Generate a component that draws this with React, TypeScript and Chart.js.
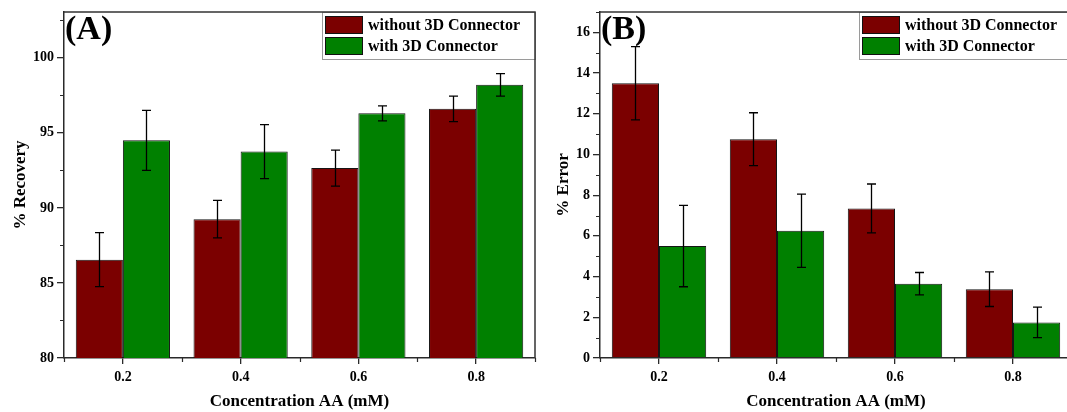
import React, { useEffect, useRef } from 'react';
import { Chart, registerables } from 'chart.js';

Chart.register(...registerables);

// ---- data ----
const categories = ['0.2', '0.4', '0.6', '0.8'];
const seriesNames = ['without 3D Connector', 'with 3D Connector'];

const recoveryWithout = [86.55, 89.25, 92.65, 96.6];
const recoveryWithoutErr = [1.8, 1.25, 1.2, 0.85];
const recoveryWith = [94.5, 93.75, 96.3, 98.2];
const recoveryWithErr = [2.0, 1.8, 0.5, 0.75];

const errorWithout = [13.5, 10.75, 7.35, 3.38];
const errorWithoutErr = [1.8, 1.3, 1.2, 0.85];
const errorWith = [5.5, 6.25, 3.65, 1.75];
const errorWithErr = [2.0, 1.8, 0.55, 0.75];

const recoveryTicks = [80, 85, 90, 95, 100];
const errorTicks = [0, 2, 4, 6, 8, 10, 12, 14, 16];

const panelLabels = ['(A)', '(B)'];
const xTitle = 'Concentration AA (mM)';
const yTitles = ['% Recovery', '% Error'];

// ---- styles ----
const FAMILY = '"Liberation Serif", "Times New Roman", serif';
const MAROON = '#7B0000';
const GREEN = '#008000';
const AXIS = '#2a2a2a';

function makePlugins(label: string) {
  const errorBars = {
    id: 'errorBars',
    afterDatasetsDraw(chart: any) {
      const ctx = chart.ctx;
      const y = chart.scales.y;
      ctx.save();
      ctx.strokeStyle = '#000';
      ctx.lineWidth = 1.3;
      chart.data.datasets.forEach((ds: any, i: number) => {
        const meta = chart.getDatasetMeta(i);
        meta.data.forEach((el: any, j: number) => {
          const v = ds.data[j];
          const e = ds.errors[j];
          const x = Math.round(el.x) + 0.5;
          const yt = y.getPixelForValue(v + e);
          const yb = y.getPixelForValue(v - e);
          ctx.beginPath();
          ctx.moveTo(x, yt);
          ctx.lineTo(x, yb);
          ctx.moveTo(x - 4.5, yt);
          ctx.lineTo(x + 4.5, yt);
          ctx.moveTo(x - 4.5, yb);
          ctx.lineTo(x + 4.5, yb);
          ctx.stroke();
        });
      });
      ctx.restore();
    },
  };

  const frame = {
    id: 'frame',
    afterDraw(chart: any) {
      const ctx = chart.ctx;
      const ca = chart.chartArea;
      const ys = chart.scales.y;
      const xs = chart.scales.x;
      ctx.save();
      // minor y ticks
      ctx.strokeStyle = AXIS;
      ctx.lineWidth = 1.2;
      const tv = ys.ticks.map((t: any) => t.value);
      const step = tv[1] - tv[0];
      ctx.beginPath();
      for (let v = tv[0] + step / 2; v <= ys.max + 1e-9; v += step) {
        const py = Math.round(ys.getPixelForValue(v)) + 0.5;
        ctx.moveTo(ca.left - 4, py);
        ctx.lineTo(ca.left, py);
      }
      // minor x ticks at category boundaries
      for (let i = 0; i <= categories.length; i++) {
        const px = Math.round(xs.getPixelForValue(i - 0.5)) + 0.5;
        ctx.moveTo(px, ca.bottom);
        ctx.lineTo(px, ca.bottom + 4);
      }
      ctx.stroke();

      // legend box
      const lw = 213;
      const lh = 47;
      const lx = Math.round(ca.right - lw);
      const ly = Math.round(ca.top);
      ctx.fillStyle = '#fff';
      ctx.fillRect(lx, ly, lw, lh);
      ctx.strokeStyle = '#9a9a9a';
      ctx.lineWidth = 1;
      ctx.strokeRect(lx + 0.5, ly + 0.5, lw, lh);
      ctx.font = `bold 16px ${FAMILY}`;
      ctx.textBaseline = 'middle';
      ctx.textAlign = 'left';
      chart.data.datasets.forEach((ds: any, i: number) => {
        const sy = ly + 4 + i * 21;
        ctx.fillStyle = ds.backgroundColor;
        ctx.fillRect(lx + 3, sy, 38, 18);
        ctx.strokeStyle = '#111';
        ctx.strokeRect(lx + 3.5, sy + 0.5, 37, 17);
        ctx.fillStyle = '#000';
        ctx.fillText(ds.label, lx + 46, sy + 10);
      });

      // frame (top and right)
      ctx.strokeStyle = '#333';
      ctx.lineWidth = 1.5;
      ctx.beginPath();
      ctx.moveTo(ca.left, ca.top);
      ctx.lineTo(ca.right, ca.top);
      ctx.lineTo(ca.right, ca.bottom);
      ctx.stroke();

      // panel label
      ctx.fillStyle = '#000';
      ctx.font = `bold 34px ${FAMILY}`;
      ctx.textBaseline = 'alphabetic';
      ctx.fillText(label, ca.left + 1, 39);
      ctx.restore();
    },
  };
  return [errorBars, frame];
}

interface PanelProps {
  left: number;
  width: number;
  padLeft: number;
  yWidth: number;
  seriesA: number[];
  seriesAErr: number[];
  seriesB: number[];
  seriesBErr: number[];
  yMin: number;
  yMax: number;
  ticks: number[];
  yTitle: string;
  label: string;
}

function Panel(p: PanelProps) {
  const ref = useRef<HTMLCanvasElement>(null);
  useEffect(() => {
    const tickFont = { family: FAMILY, size: 14, weight: 'bold' as const };
    const titleFont = { family: FAMILY, size: 17, weight: 'bold' as const };
    const chart = new Chart(ref.current as HTMLCanvasElement, {
      type: 'bar',
      data: {
        labels: categories,
        datasets: [
          {
            label: seriesNames[0],
            data: p.seriesA,
            errors: p.seriesAErr,
            backgroundColor: MAROON,
            borderColor: '#151515',
            borderWidth: 1,
            categoryPercentage: 0.8,
            barPercentage: 1,
          } as any,
          {
            label: seriesNames[1],
            data: p.seriesB,
            errors: p.seriesBErr,
            backgroundColor: GREEN,
            borderColor: '#151515',
            borderWidth: 1,
            categoryPercentage: 0.8,
            barPercentage: 1,
          } as any,
        ],
      },
      options: {
        responsive: false,
        animation: false,
        devicePixelRatio: 1,
        layout: { padding: { left: p.padLeft, right: 13, top: 12, bottom: 0 } },
        plugins: { legend: { display: false }, tooltip: { enabled: false } },
        scales: {
          x: {
            type: 'category',
            offset: true,
            grid: {
              offset: false,
              drawOnChartArea: false,
              drawTicks: true,
              tickLength: 6,
              color: AXIS,
              lineWidth: 1.3,
            },
            border: { display: true, color: AXIS, width: 1.5 },
            ticks: { color: '#000', font: tickFont, padding: 5, maxRotation: 0 },
            title: {
              display: true,
              text: xTitle,
              color: '#000',
              font: titleFont,
              padding: { top: 4, bottom: 0 },
            },
            afterFit: (s: any) => {
              s.height = 54;
            },
          },
          y: {
            type: 'linear',
            min: p.yMin,
            max: p.yMax,
            afterBuildTicks: (s: any) => {
              s.ticks = p.ticks.map((v) => ({ value: v }));
            },
            grid: {
              drawOnChartArea: false,
              drawTicks: true,
              tickLength: 7,
              color: AXIS,
              lineWidth: 1.3,
            },
            border: { display: true, color: AXIS, width: 1.5 },
            ticks: { color: '#000', font: tickFont, padding: 3 },
            title: {
              display: true,
              text: p.yTitle,
              color: '#000',
              font: titleFont,
              padding: { top: 4, bottom: 4 },
            },
            afterFit: (s: any) => {
              s.width = p.yWidth;
            },
          },
        },
      } as any,
      plugins: makePlugins(p.label),
    });
    return () => chart.destroy();
  }, []);
  return (
    <canvas
      ref={ref}
      width={p.width}
      height={412}
      style={{ position: 'absolute', left: p.left, top: 0, width: p.width, height: 412 }}
    />
  );
}

export default function App() {
  return (
    <div
      style={{
        position: 'fixed',
        left: 0,
        top: 0,
        width: 1067,
        height: 412,
        overflow: 'hidden',
        background: '#fff',
      }}
    >
      <Panel
        left={0}
        width={548}
        padLeft={6}
        yWidth={58}
        seriesA={recoveryWithout}
        seriesAErr={recoveryWithoutErr}
        seriesB={recoveryWith}
        seriesBErr={recoveryWithErr}
        yMin={80}
        yMax={103.05}
        ticks={recoveryTicks}
        yTitle={yTitles[0]}
        label={panelLabels[0]}
      />
      <Panel
        left={548}
        width={537}
        padLeft={1}
        yWidth={51}
        seriesA={errorWithout}
        seriesAErr={errorWithoutErr}
        seriesB={errorWith}
        seriesBErr={errorWithErr}
        yMin={0}
        yMax={17}
        ticks={errorTicks}
        yTitle={yTitles[1]}
        label={panelLabels[1]}
      />
    </div>
  );
}
